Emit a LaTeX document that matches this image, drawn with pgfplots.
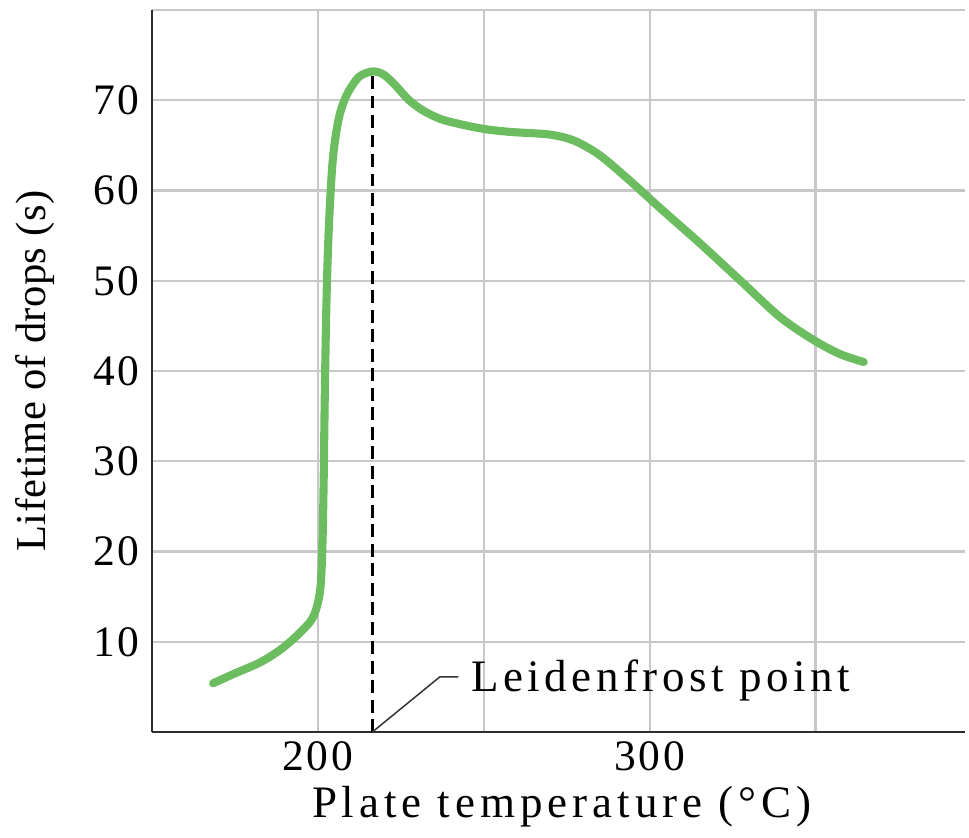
\documentclass[border=0pt]{standalone}
\usepackage{pgfplots}
\pgfplotsset{compat=1.18}
\usepackage{fontspec}
\setmainfont{Liberation Serif}
\newfontfamily\tickfont[LetterSpace=6]{Liberation Serif}
\newfontfamily\xlabfont[LetterSpace=11]{Liberation Serif}
\newfontfamily\ylabfont[LetterSpace=1]{Liberation Serif}
\newfontfamily\annfont[LetterSpace=10]{Liberation Serif}
\definecolor{curvegreen}{RGB}{108,189,95}
\definecolor{gridgray}{RGB}{200,200,200}
\definecolor{axisgray}{RGB}{45,45,45}
\begin{document}
\begin{tikzpicture}
\begin{axis}[
  scale only axis,
  width=271pt, height=240.7pt,
  xmin=150, xmax=395, ymin=0, ymax=80,
  axis lines=left,
  axis line style={-, draw=axisgray, line width=0.9pt},
  xtick={200,300},
  minor xtick={250,350},
  ytick={10,20,30,40,50,60,70,80},
  yticklabels={10,20,30,40,50,60,70,{}},
  major tick length=0pt, minor tick length=0pt,
  grid=both,
  major grid style={draw=gridgray, line width=0.8pt},
  minor grid style={draw=gridgray, line width=0.8pt},
  /pgf/number format/assume math mode=true,
  ticklabel style={font=\tickfont\fontsize{14.5}{17}\selectfont},
  yticklabel style={anchor=east, inner sep=0pt, xshift=-4.0pt},
  xticklabel style={anchor=north, inner sep=0pt, yshift=-3.0pt},
  xlabel={Plate temperature (°C)},
  ylabel={Lifetime of drops (s)},
  xlabel style={font=\xlabfont\fontsize{15}{18}\selectfont, at={(axis description cs:0.504,-0.119)}, anchor=base},
  ylabel style={font=\ylabfont\fontsize{14.2}{17}\selectfont, at={(axis description cs:-0.131,0.5)}, anchor=base},
  clip=false,
]
\path (rel axis cs:-0.187,-0.1288) rectangle (rel axis cs:1.005,1.0139);
% Leidenfrost dashed line
\addplot[draw=black, line width=1.0pt, dash pattern=on 4.2pt off 2.3pt] coordinates {(216.6,0) (216.6,72.8)};
% annotation leader
\addplot[draw=black!80, line width=0.5pt] coordinates {(216.4,0) (236.7,6.1) (242.3,6.1)};
\node[anchor=base west, inner sep=0pt, font=\annfont\fontsize{15}{18}\selectfont] at (axis cs:246.0,4.45) {Leidenfrost point};
% curve
\addplot[draw=curvegreen, line width=2.7pt, smooth, tension=0.5, line cap=round] coordinates {
(168.4,5.4) (175,6.5) (182.5,7.7) (188.6,9.1) (194,10.8) (198.5,12.7)
(200.6,15.5) (201.3,20) (201.7,27) (202.1,38) (202.6,48) (203.3,56)
(204.5,63.5) (206.3,68) (208.7,70.6) (212.4,72.6) (216.6,73.2) (220,72.8)
(223.5,71.6) (227.5,70.0) (232,68.8) (238,67.8) (248.8,66.9) (257.8,66.5) (269.9,66.2)
(277.4,65.5) (285,63.9) (294,61.1) (303,58.1) (315,54.2) (327.1,50.1)
(339.2,46.0) (349.1,43.5) (357.2,41.9) (364.5,41.0)
};
\end{axis}
\end{tikzpicture}
\end{document}
